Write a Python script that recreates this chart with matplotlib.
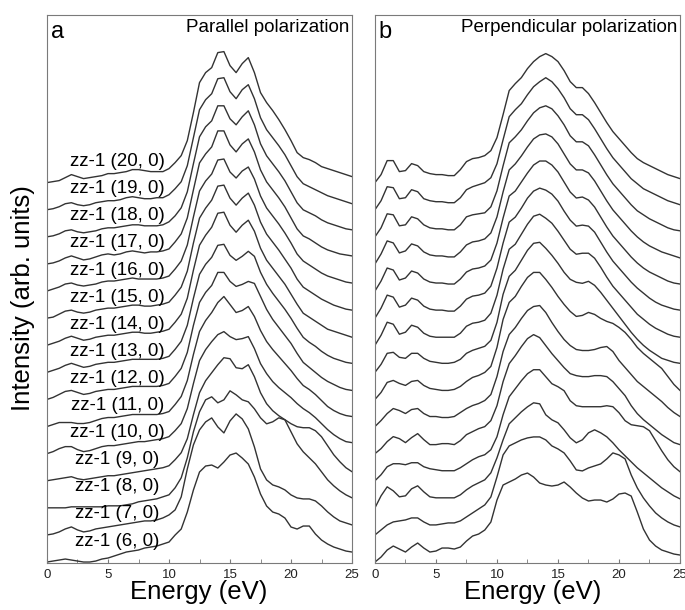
import numpy as np
import matplotlib.pyplot as plt
from matplotlib.ticker import MultipleLocator

plt.rcParams['font.family'] = ['Liberation Sans', 'DejaVu Sans']

# energy grid of the spectra (eV), read every 0.5 eV
energy = np.linspace(0, 25, 51)

tube_n = [6, 7, 8, 9, 10, 11, 12, 13, 14, 15, 16, 17, 18, 19, 20]

# intensity (arb. units) for each tube, bottom (6,0) to top (20,0)
parallel = [
    [0,1,2,3,2,1,0,0,1,3,4,6,8,10,11,12,14,15,16,18,20,
     27,33,50,72,90,96,97,94,100,107,109,104,98,85,68,56,50,48,44,35,33,36,36,28,22,18,15,13,11,10],
    [0,1,3,6,8,5,3,4,6,7,8,9,10,11,12,13,14,14,15,17,20,
     25,38,66,90,105,113,117,108,102,114,121,116,106,88,66,55,50,48,45,40,37,36,36,34,29,23,18,14,12,10],
    [0,0,0,0,1,1,1,1,1,1,2,2,2,3,4,6,7,8,9,11,13,
     20,30,50,76,96,108,111,105,108,117,113,108,106,99,90,84,86,90,88,76,64,56,50,44,36,28,22,17,13,10],
    [0,1,2,3,4,2,1,2,3,4,5,5,6,7,8,9,10,11,12,13,15,
     21,28,42,66,88,100,108,116,123,122,113,112,116,104,88,77,70,65,61,57,54,53,53,50,44,35,26,19,13,9],
    [0,2,5,7,7,4,2,3,5,7,8,8,9,10,11,12,12,13,14,15,17,
     23,30,45,70,93,104,112,119,122,117,114,115,117,105,90,80,72,66,61,56,50,45,41,36,30,24,19,15,12,11],
    [0,2,4,4,4,3,3,4,6,8,9,9,10,11,12,12,12,12,12,13,15,
     22,30,46,72,95,106,114,124,130,122,114,116,120,110,96,85,77,70,63,56,48,41,37,32,26,20,16,13,11,10],
    [0,2,5,8,9,7,5,6,8,9,10,10,11,12,13,13,13,13,13,14,16,
     23,31,47,74,97,107,114,127,127,118,113,115,118,116,103,90,80,72,64,56,46,37,32,27,22,18,15,12,10,9],
    [0,2,4,7,9,7,5,6,8,9,10,10,11,12,13,13,13,13,13,14,16,
     23,31,47,74,98,108,115,127,128,117,112,116,121,116,100,88,79,71,63,54,44,35,30,26,21,17,14,12,10,9],
    [0,2,4,7,9,7,5,6,8,9,10,10,11,12,13,13,12,12,13,14,16,
     23,31,47,75,100,110,118,132,133,120,113,120,125,114,97,85,77,69,61,51,41,32,28,24,20,16,14,12,10,8],
    [0,1,4,7,8,6,5,6,8,9,10,10,11,12,13,13,12,12,13,14,16,
     23,31,47,75,100,110,118,132,133,120,113,120,125,113,96,84,76,68,59,50,39,31,27,23,19,16,13,11,9,8],
    [0,2,4,7,8,6,5,6,7,9,10,10,11,12,13,12,12,12,12,13,15,
     22,30,46,74,100,110,117,131,132,119,113,120,124,112,95,83,75,67,58,48,37,30,26,22,18,15,13,11,9,8],
    [0,1,3,6,8,6,4,5,7,9,10,9,10,12,13,12,11,12,12,13,15,
     22,30,46,74,101,110,117,133,133,119,112,120,125,112,94,82,74,66,57,46,35,28,25,21,17,14,12,10,9,8],
    [0,1,3,6,7,5,4,5,6,8,9,9,10,11,12,12,11,11,11,12,15,
     21,29,45,73,100,110,116,131,131,118,112,120,126,112,93,81,73,65,56,45,34,27,24,21,17,14,12,10,8,7],
    [0,1,3,6,7,5,4,5,7,8,9,9,10,12,13,12,11,11,12,12,15,
     21,28,44,72,100,110,116,131,132,118,111,120,125,111,92,80,72,64,55,44,33,26,23,20,17,14,12,10,8,6],
    [0,1,2,5,8,6,4,5,6,7,9,9,10,11,13,13,12,11,11,11,14,
     20,27,42,70,100,110,115,130,131,117,110,119,125,110,90,80,72,63,53,42,30,25,23,20,16,14,12,10,8,6],
]

perpendicular = [
    [0,5,12,16,13,10,15,19,14,10,11,14,14,13,15,21,26,28,32,40,62,
     77,80,83,87,89,85,79,77,76,77,80,75,69,64,61,62,62,60,63,68,69,66,50,33,22,16,12,10,8,7],
    [0,5,10,13,14,15,17,17,13,10,10,11,12,12,14,18,22,26,30,38,58,
     80,89,92,95,97,98,98,95,89,86,82,74,65,64,67,69,71,76,82,80,76,60,47,37,29,22,17,13,10,8],
    [0,12,21,17,11,12,19,22,16,11,10,10,10,10,13,18,22,25,28,35,50,
     68,84,90,96,101,105,104,93,88,85,78,70,65,68,75,78,75,71,65,58,52,46,40,35,30,25,20,16,12,9],
    [0,6,14,17,17,16,18,18,14,12,11,10,10,10,13,17,21,24,26,31,44,
     66,84,92,100,107,111,111,104,97,94,90,80,75,74,74,74,74,75,74,68,60,56,55,54,50,40,30,21,14,9],
    [0,5,12,17,15,11,16,20,14,9,9,10,10,9,13,19,22,25,27,33,48,
     72,90,98,107,115,119,116,108,100,93,86,80,78,77,77,78,78,77,72,65,58,48,40,34,29,24,19,15,11,9],
    [0,6,13,18,16,13,17,18,13,10,10,9,9,10,14,18,21,23,26,32,50,
     75,92,99,108,116,120,121,114,104,95,87,81,77,76,76,77,79,80,75,66,59,52,45,40,35,30,25,19,14,10],
    [0,7,17,19,16,14,18,19,14,11,10,9,9,10,13,18,22,24,27,33,52,
     80,97,103,113,122,127,127,120,112,103,95,88,83,84,87,85,81,78,76,72,67,60,52,46,41,36,31,23,15,9],
    [0,8,19,20,15,14,19,19,14,11,10,9,9,10,13,19,22,24,26,32,50,
     78,96,102,112,122,129,130,124,117,109,100,93,90,89,91,87,80,72,64,56,48,40,33,27,22,18,14,12,10,9],
    [0,10,23,21,11,13,20,18,12,9,8,8,8,8,12,19,22,23,25,32,50,
     76,96,101,111,121,129,131,127,122,114,105,96,91,92,92,87,78,68,59,52,45,38,31,26,21,17,14,11,9,8],
    [0,10,23,21,11,13,20,18,12,9,8,8,7,7,12,19,22,23,25,32,50,
     75,96,101,110,120,127,130,128,124,117,107,98,92,93,92,86,76,66,57,50,43,36,30,25,20,16,13,11,9,8],
    [0,10,23,21,11,13,20,18,12,9,8,8,7,7,12,19,22,23,25,31,48,
     73,95,100,109,118,126,130,130,126,119,109,99,93,94,91,84,74,64,55,48,41,34,28,23,19,16,13,10,8,7],
    [0,10,23,21,11,13,20,18,12,9,8,8,7,7,12,19,22,23,25,31,47,
     72,94,100,108,117,125,129,130,127,120,110,100,94,94,91,83,73,63,54,47,40,33,27,22,18,15,12,10,8,6],
    [0,9,23,22,11,12,20,18,12,9,8,8,7,7,12,20,22,23,24,30,46,
     71,94,100,107,116,124,129,131,128,121,112,101,95,95,91,82,72,62,53,46,39,32,26,22,18,15,12,9,7,6],
    [0,9,23,22,11,12,20,18,11,9,8,8,7,7,12,20,23,25,27,32,46,
     70,93,100,106,115,123,128,132,128,121,112,101,95,95,90,81,71,61,52,45,38,31,26,21,18,15,12,9,7,5],
    [0,8,22,22,11,12,19,17,11,9,8,8,7,7,13,21,24,25,27,32,45,
     68,92,99,105,114,121,126,129,126,121,112,101,95,95,89,80,70,60,51,44,37,30,24,20,17,14,11,8,6,4],
]

step = 27.1  # vertical offset between stacked spectra
line_col = '#333333'
frame_col = '#7a7a7a'

fig = plt.figure(figsize=(6.85, 6.1), dpi=100)
ax_a = fig.add_axes([0.0686, 0.0770, 0.4453, 0.8984])
ax_b = fig.add_axes([0.5474, 0.0770, 0.4453, 0.8984])

for ax, data in [(ax_a, parallel), (ax_b, perpendicular)]:
    for i, row in enumerate(data):
        ax.plot(energy, np.array(row) + i * step, color=line_col, lw=1.0,
                solid_joinstyle='round')
    ax.set_xlim(0, 25)
    ax.set_ylim(-1, 547)
    ax.set_yticks([])
    ax.xaxis.set_major_locator(MultipleLocator(5))
    ax.xaxis.set_minor_locator(MultipleLocator(2.5))
    ax.tick_params(axis='x', which='both', direction='in', labelsize=9.5,
                   pad=4, length=3, colors=frame_col, labelcolor='#222222')
    for s in ax.spines.values():
        s.set_color(frame_col)
        s.set_linewidth(0.8)

for i, n in enumerate(tube_n):
    ax_a.text(5.75, i * step + 21, f'zz-1 ({n}, 0)', ha='center', va='center',
              fontsize=13.5)

ax_a.text(0.3, 524, 'a', fontsize=17, va='baseline')
ax_b.text(0.3, 524, 'b', fontsize=17, va='baseline')
ax_a.text(24.75, 530, 'Parallel polarization', ha='right', va='baseline', fontsize=13.5)
ax_b.text(24.75, 530, 'Perpendicular polarization', ha='right', va='baseline', fontsize=13.5)

fig.text(0.29, 0.03, 'Energy (eV)', ha='center', va='center', fontsize=18.5)
fig.text(0.778, 0.03, 'Energy (eV)', ha='center', va='center', fontsize=18.5)
fig.text(0.034, 0.512, 'Intensity (arb. units)', rotation=90, ha='center',
         va='center', fontsize=18.5)

fig.savefig('out.png', dpi=100)
